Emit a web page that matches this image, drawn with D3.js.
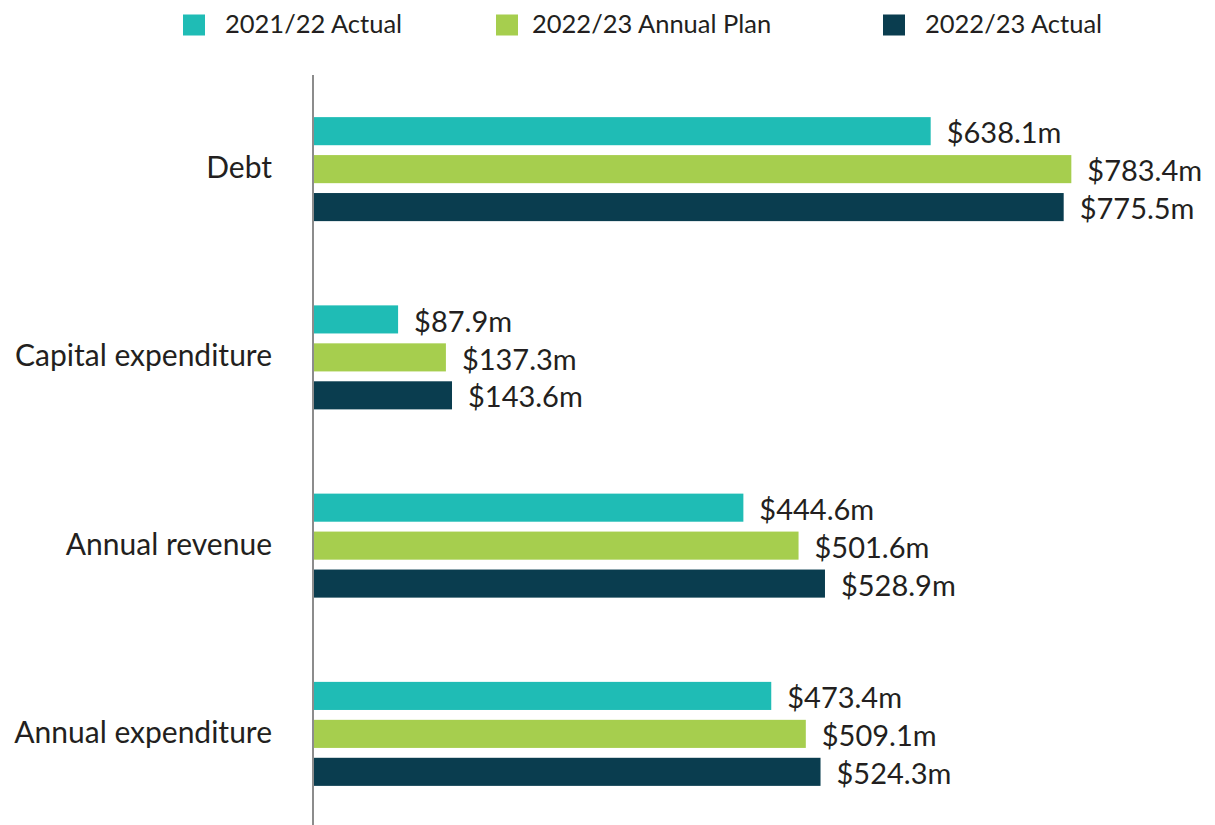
<!DOCTYPE html>
<html>
<head>
<meta charset="utf-8">
<script src="https://cdn.jsdelivr.net/npm/d3@7"></script>
<style>
  body { margin: 0; background: #fff; }
  svg { font-family: Lato, "Noto Sans", sans-serif; }
</style>
</head>
<body>
<svg width="1215" height="825"></svg>
<script>
let categories = ['Debt', 'Capital expenditure', 'Annual revenue', 'Annual expenditure'];
let seriesNames = ['2021/22 Actual', '2022/23 Annual Plan', '2022/23 Actual'];
let actual2122 = [638.1, 87.9, 444.6, 473.4];
let plan2223 = [783.4, 137.3, 501.6, 509.1];
let actual2223 = [775.5, 143.6, 528.9, 524.3];
let colors = ['#1fbcb5', '#a6ce4e', '#0a3d4f'];

let series = [actual2122, plan2223, actual2223];
let svg = d3.select('svg');
let x0 = 313;

let x = d3.scaleLinear().domain([0, 1000]).range([x0, x0 + 968]);
let y = d3.scaleBand().domain(categories).range([75, 828]);
let yInner = d3.scaleBand().domain(d3.range(3)).range([-52, 52]).paddingInner(0.26);

// legend
let legendSwatchX = [183, 496, 883];
let legendTextX = [225, 532, 925];
let legend = svg.append('g').attr('class', 'legend');
seriesNames.forEach((name, i) => {
    legend.append('rect')
        .attr('x', legendSwatchX[i]).attr('y', 14.5)
        .attr('width', 22).attr('height', 21)
        .attr('fill', colors[i]);
    legend.append('text')
        .attr('x', legendTextX[i]).attr('y', 24)
        .attr('dy', '.35em')
        .attr('font-size', 25.5)
        .attr('fill', '#231f20')
        .text(name);
});

// groups
let groups = svg.selectAll('g.group')
    .data(categories)
    .enter()
    .append('g')
    .attr('class', 'group')
    .attr('transform', d => `translate(0, ${y(d) + y.bandwidth() / 2})`);

groups.append('text')
    .attr('x', 272)
    .attr('text-anchor', 'end')
    .attr('dy', '.3em')
    .attr('font-size', 30)
    .attr('fill', '#231f20')
    .text(d => d);

groups.each(function (cat, ci) {
    let g = d3.select(this);
    series.forEach((vals, si) => {
        g.append('rect')
            .attr('x', x(0))
            .attr('y', yInner(si))
            .attr('width', x(vals[ci]) - x(0))
            .attr('height', yInner.bandwidth())
            .attr('fill', colors[si]);
        g.append('text')
            .attr('x', x(vals[ci]) + 16)
            .attr('y', yInner(si) + yInner.bandwidth() / 2 + 2)
            .attr('dy', '.35em')
            .attr('font-size', 29)
            .attr('fill', '#231f20')
            .text(`$${vals[ci].toFixed(1)}m`);
    });
});

// axis line
svg.append('line')
    .attr('x1', x0).attr('x2', x0)
    .attr('y1', 75).attr('y2', 825)
    .attr('stroke', '#8c8c8c')
    .attr('stroke-width', 2);
</script>
</body>
</html>
